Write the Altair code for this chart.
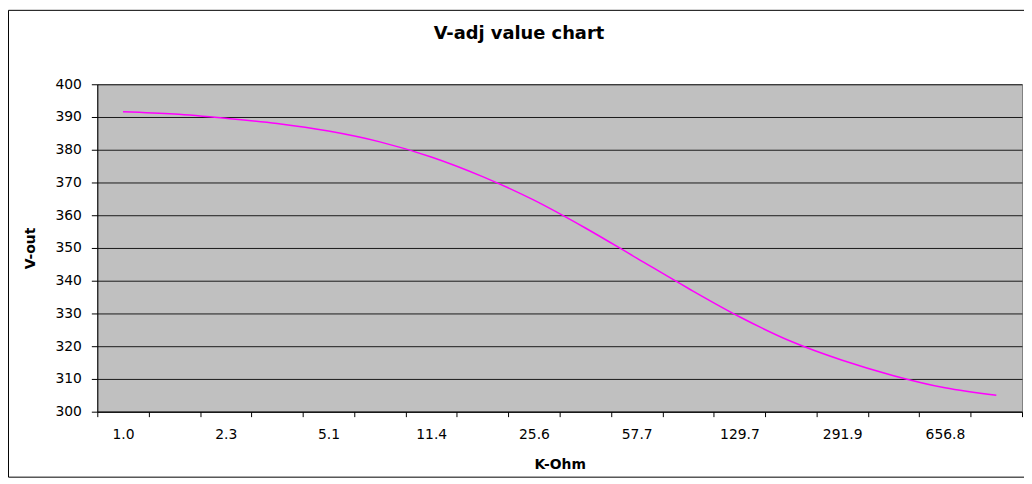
import altair as alt
import pandas as pd

# K-Ohm categories (geometric steps of 1.5)
categories = ["1.0", "1.5", "2.3", "3.4", "5.1", "7.6", "11.4", "17.1", "25.6",
              "38.4", "57.7", "86.5", "129.7", "194.6", "291.9", "437.9", "656.8", "985.3"]
# labels actually printed on the x axis (every other category)
shown_labels = ["1.0", "2.3", "5.1", "11.4", "25.6", "57.7", "129.7", "291.9", "656.8"]
# V-out values
vout = [391.6, 390.9, 389.6, 388.0, 385.7, 382.4, 377.8, 371.8, 364.6,
        356.1, 346.9, 337.7, 329.0, 321.5, 315.7, 311.0, 307.3, 305.0]
y_ticks = [300, 310, 320, 330, 340, 350, 360, 370, 380, 390, 400]

title_text = "V-adj value chart"
x_title = "K-Ohm"
y_title = "V-out"

FONT = "DejaVu Sans"

df = pd.DataFrame({"kohm": categories, "vout": vout})

shown_expr = "indexof([" + ",".join("'" + s + "'" for s in shown_labels) + "], datum.value) >= 0 ? datum.label : ''"

line = alt.Chart(df).mark_line(color="#FF00FF", strokeWidth=1.5, interpolate="monotone").encode(
    x=alt.X("kohm:N", sort=categories, bandPosition=0.5,
            scale=alt.Scale(type="band", paddingInner=0, paddingOuter=0),
            axis=alt.Axis(title=x_title, labelExpr=shown_expr, labelAngle=0,
                          tickBand="extent", tickSize=5, tickColor="black",
                          domainColor="black", labelPadding=11, labelFontSize=14,
                          labelColor="black", grid=False,
                          titleX=466, titleY=53.5, titleBaseline="middle",
                          titleAlign="center", titleFontSize=14,
                          titleFontWeight="bold", titleColor="black")),
    y=alt.Y("vout:Q",
            scale=alt.Scale(domain=[300, 400], nice=False, zero=False),
            axis=alt.Axis(title=y_title, values=y_ticks, tickSize=6,
                          tickColor="black", domainColor="black",
                          labelPadding=10, labelFontSize=14, labelColor="black",
                          grid=True, gridColor="#1a1a1a", gridWidth=1,
                          titleX=-67, titleY=165, titleAngle=-90,
                          titleBaseline="middle", titleAlign="center",
                          titleFontSize=14, titleFontWeight="bold",
                          titleColor="black")),
)

frame = alt.Chart(alt.Data(values=[{"f": 1}])).mark_rect(
    fillOpacity=0, stroke="black", strokeWidth=1
).encode(
    x=alt.value(-89.5), x2=alt.value(940), y=alt.value(-74.5), y2=alt.value(396)
)

title = alt.Chart(alt.Data(values=[{"t": title_text}])).mark_text(
    font=FONT, fontWeight="bold", fontSize=18, align="center", baseline="middle",
    color="black"
).encode(x=alt.value(425), y=alt.value(-51), text="t:N")

chart = alt.layer(frame, title, line).properties(
    width=932, height=330,
    autosize=alt.AutoSizeParams(type="none"),
    padding={"left": 90, "top": 75, "right": 2, "bottom": 67},
).configure_axis(
    labelFont=FONT, titleFont=FONT
).configure_view(
    fill="#C0C0C0", stroke="#808080", strokeWidth=1
)

chart.save("out.html", embed_options={"renderer": "svg", "actions": False})
